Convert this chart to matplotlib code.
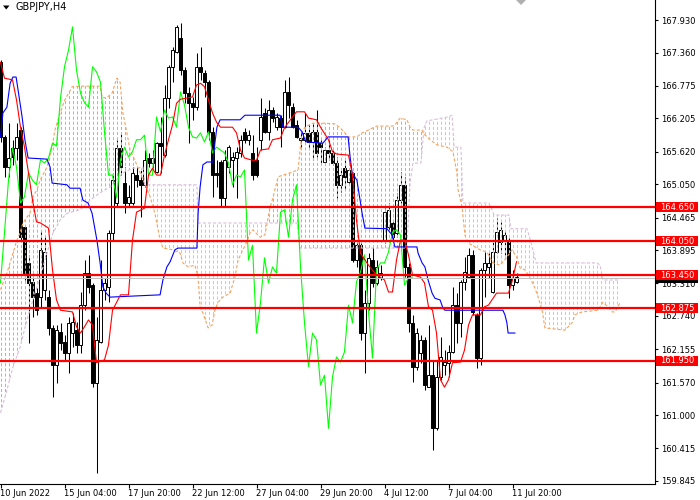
import numpy as np
import matplotlib
matplotlib.use('Agg')
import matplotlib.pyplot as plt
from matplotlib.patches import Rectangle, Polygon
from matplotlib.collections import LineCollection
from matplotlib.transforms import blended_transform_factory

plt.rcParams['font.family'] = ['DejaVu Sans']
plt.rcParams['lines.scale_dashes'] = False

# ---------------- data (GBPJPY, H4) ----------------
symbol_title = 'GBPJPY,H4'

opens = [167.19,165.88,165.35,165.69,165.69,166.00,164.30,163.67,163.34,163.14,
         163.07,163.20,163.07,162.53,161.88,162.46,162.28,162.09,162.44,162.49,
         162.23,162.93,163.49,163.28,161.56,162.28,163.20,163.25,164.20,164.72,
         165.69,165.07,164.72,164.72,165.21,165.12,165.04,165.51,165.42,165.26,
         165.77,165.56,166.56,167.11,167.37,167.62,167.05,166.65,166.48,166.40,
         167.11,167.00,166.84,165.97,165.25,165.44,164.81,165.35,165.48,165.51,
         165.60,165.97,165.83,165.60,165.48,165.83,166.30,165.97,166.35,166.05,
         166.21,166.05,166.67,166.40,166.09,165.83,165.83,165.95,165.79,165.97,
         165.77,165.44,165.65,165.60,165.42,165.04,165.34,165.09,165.25,163.72,
         163.98,162.44,162.97,163.72,163.32,163.41,164.07,164.30,164.37,164.20,
         164.77,165.04,163.60,162.62,161.85,162.09,162.32,161.49,161.70,160.77,
         161.67,161.88,161.92,162.11,162.93,162.62,163.34,163.42,163.81,162.76,
         162.00,163.55,163.60,163.16,163.86,164.04,164.07,164.04,163.28,163.34]
highs = [167.23,165.91,166.12,165.83,166.12,166.05,164.34,163.81,163.49,163.23,
         164.25,164.16,163.20,162.58,162.58,162.62,162.41,162.72,162.79,162.63,
         163.16,163.72,163.81,163.32,162.72,163.72,163.41,164.25,165.25,165.83,
         165.95,165.35,165.04,165.35,165.35,165.30,165.65,165.60,165.65,165.79,
         166.23,166.79,167.14,167.46,167.84,167.88,167.11,166.76,166.58,167.35,
         167.46,167.05,166.88,166.05,165.48,165.48,165.65,165.74,165.62,165.70,
         165.91,166.04,166.00,165.91,165.70,166.56,166.39,166.53,166.40,166.30,
         166.26,166.88,166.93,166.48,166.18,165.97,166.30,166.09,166.12,166.35,
         165.83,165.70,165.83,165.65,165.53,165.30,165.48,165.34,165.26,164.02,
         164.02,163.20,163.84,163.95,163.72,163.63,164.63,164.72,164.42,164.90,
         165.26,165.18,163.67,162.76,162.53,162.41,162.37,162.58,161.97,161.97,
         162.37,162.14,162.23,163.25,163.14,163.37,163.77,163.93,163.90,162.79,
         163.58,163.86,163.84,164.04,164.46,164.39,164.25,164.11,163.55,163.49]
lows = [165.79,165.18,165.18,165.39,165.48,164.07,163.37,162.27,162.72,162.76,
        162.90,163.02,162.41,161.32,161.56,162.14,161.97,161.74,162.20,162.09,
        162.09,162.84,163.14,161.49,159.99,162.27,163.02,162.99,164.07,164.65,
        165.21,164.55,164.65,164.69,165.00,164.48,165.00,165.35,165.34,165.25,
        165.25,165.53,166.39,166.84,167.35,166.97,166.48,165.77,166.18,166.35,
        166.88,166.58,165.83,164.83,165.00,164.65,164.65,165.25,165.00,164.81,
        165.53,165.77,165.74,165.12,165.18,165.65,165.95,165.83,166.14,166.00,
        165.70,166.04,166.21,166.04,165.86,165.70,165.79,165.69,165.48,165.53,
        165.42,165.39,165.48,165.39,164.81,164.91,164.95,165.04,163.69,163.60,
        162.32,161.74,162.84,163.25,163.28,163.37,164.02,164.25,164.07,164.12,
        164.72,163.42,162.46,161.58,161.79,161.92,161.44,161.49,160.39,160.74,
        161.62,161.70,161.67,162.09,162.27,162.37,163.20,163.41,162.76,161.83,
        161.88,163.07,163.41,163.14,163.84,163.84,163.81,163.06,163.20,163.32]
closes = [165.88,165.35,165.51,165.53,165.88,164.12,163.49,163.32,163.07,162.84,
          163.90,163.86,162.53,161.88,162.49,162.27,162.09,162.62,162.63,162.23,
          162.93,163.49,163.25,161.56,162.32,163.20,163.32,164.20,165.12,165.69,
          165.35,164.72,164.83,165.25,165.12,165.04,165.48,165.42,165.51,165.77,
          165.72,166.56,167.11,167.40,167.81,167.05,166.65,166.48,166.40,167.11,
          167.02,166.84,165.97,165.21,165.21,164.81,165.48,165.70,165.53,165.62,
          165.83,165.83,165.91,165.21,165.21,166.23,165.97,166.35,166.21,166.23,
          166.05,166.67,166.44,166.05,165.88,165.86,165.95,165.79,165.97,165.60,
          165.70,165.65,165.60,165.42,165.04,165.21,165.18,165.30,163.72,163.98,
          162.44,162.97,163.76,163.32,163.60,163.49,164.56,164.60,164.12,164.77,
          165.04,163.60,162.62,161.85,162.44,162.32,161.53,161.70,160.77,161.67,
          162.02,161.93,162.11,162.93,162.62,163.34,163.51,163.81,162.81,162.00,
          163.55,163.67,163.67,163.86,164.21,164.25,164.16,163.28,163.41,163.42]

# Tenkan-sen (red): bar index, price
tenkan_bar = [0,1,3,4,5,6,7,8,9,10,12,13,14,15,18,19,20,21,22,23,
              24,26,27,28,30,32,33,34,36,37,38,39,40,41,42,43,44,45,48,49,
              50,51,52,53,54,55,58,59,60,61,63,64,65,67,68,70,71,73,74,76,
              77,79,80,82,83,84,87,88,89,90,92,94,96,97,98,99,100,101,102,103,
              105,106,107,108,109,110,111,112,113,115,116,117,118,120,121,122,124,127,128,129]
tenkan_val = [167.19,166.91,166.88,166.53,166.05,165.70,165.25,164.77,164.39,164.37,
              164.28,163.55,163.02,162.84,162.81,162.55,162.44,162.55,162.67,162.58,
              161.92,161.97,162.23,162.84,163.11,163.11,164.07,164.56,164.63,165.21,
              165.33,165.21,165.21,165.56,165.83,166.09,166.47,166.54,166.58,166.79,
              166.82,166.76,166.53,166.30,166.14,166.05,166.05,165.95,165.65,165.51,
              165.47,165.47,165.65,165.67,165.83,165.86,166.04,166.23,166.32,166.32,
              166.21,166.18,166.05,165.83,165.62,165.58,165.56,165.21,164.42,163.84,
              163.63,163.46,163.37,163.16,163.16,163.72,164.07,164.07,163.81,163.46,
              163.42,163.32,162.90,162.84,162.44,161.62,161.49,161.62,161.92,161.93,
              162.14,162.58,162.76,162.76,162.90,162.93,163.14,163.14,163.37,163.69]

# Kijun-sen (blue)
kijun_bar = [0,0.6,1.6,2.4,3.1,3.9,4.4,5.4,6.1,6.9,
             11.6,12.4,12.9,16.6,17.4,19.9,20.6,21.9,22.9,24.1,
             24.9,25.6,26.4,27.4,39.9,40.6,41.6,42.4,43.6,44.4,
             49.1,49.4,49.9,50.6,51.6,53.1,53.6,54.1,54.9,59.9,
             61.1,69.9,70.6,74.4,75.4,76.1,76.6,80.6,81.9,86.9,
             87.4,87.9,89.1,89.9,90.4,91.1,96.6,97.9,98.6,104.1,
             104.4,105.4,106.1,106.9,107.9,108.6,109.9,110.6,111.1,125.6,
             126.1,126.6,126.9,128.6]
kijun_val = [165.88,166.30,166.40,166.82,166.93,166.93,166.70,166.23,165.83,165.51,
             165.49,165.35,165.07,165.04,164.98,164.98,164.77,164.72,164.54,164.07,
             163.67,163.25,163.14,163.07,163.11,163.37,163.60,163.69,163.90,163.93,
             163.93,164.54,165.00,165.39,165.44,165.44,165.77,166.05,166.18,166.18,
             166.26,166.26,166.05,166.05,165.97,165.83,165.79,165.77,165.88,165.88,
             165.53,165.25,165.12,164.77,164.54,164.28,164.27,164.16,163.95,163.95,
             163.84,163.67,163.60,163.37,163.14,163.05,163.02,162.88,162.84,162.84,
             162.76,162.62,162.44,162.44]

# Senkou span A (sandy brown edge of the cloud)
span_a_bar = [0.0,1.6,3.1,4.1,4.9,5.6,7.4,8.1,9.1,9.9,
              11.6,12.9,13.6,14.9,16.1,17.9,19.9,24.9,25.4,26.4,
              27.9,29.1,29.9,30.6,31.6,32.4,33.6,34.9,37.4,38.6,
              39.9,40.6,43.1,44.9,45.6,46.9,48.6,49.4,49.9,50.6,
              51.9,52.9,53.6,54.4,55.6,57.4,58.6,59.4,60.6,61.6,
              62.4,63.1,64.9,66.1,67.4,68.1,69.4,70.6,72.4,74.4,
              74.9,75.4,76.1,77.9,80.6,83.6,84.9,86.1,86.9,89.1,
              90.4,91.1,93.1,94.1,97.9,98.6,99.9,101.6,102.4,103.1,
              105.4,105.6,107.4,109.1,111.6,113.1,114.1,114.4,115.4,116.1,
              116.9,119.9,121.6,123.1,124.9,126.6,127.9,129.1,129.9,131.1,
              132.4,133.6,134.4,135.4,136.1,141.1,142.9,143.6,145.4,149.4,
              150.6,151.9,152.9,153.6,154.9]
span_a_val = [163.20,163.49,163.84,164.07,164.20,164.37,164.55,164.83,164.95,165.12,
              165.35,165.70,166.00,166.30,166.53,166.76,166.77,166.77,166.58,166.56,
              166.65,166.91,166.84,166.30,165.95,165.65,165.47,165.25,164.83,164.54,
              164.07,163.93,163.90,163.84,163.67,163.60,163.63,163.42,162.90,162.79,
              162.53,162.58,162.84,162.98,163.07,163.14,163.42,163.72,163.90,164.04,
              164.20,164.25,164.12,164.16,164.65,164.81,165.18,165.21,165.25,165.30,
              165.65,165.95,166.05,166.12,166.12,166.11,166.04,165.95,165.88,165.88,
              165.95,165.97,166.04,166.07,166.07,166.09,166.21,166.18,166.05,166.00,
              166.00,165.95,165.83,165.74,165.70,165.62,165.25,164.95,164.65,164.16,
              164.02,163.90,163.86,163.67,163.63,163.77,163.90,163.76,163.58,163.55,
              163.41,163.23,163.07,162.84,162.53,162.49,162.62,162.76,162.81,162.84,
              162.98,162.90,162.81,162.81,162.97]

# Senkou span B (thistle edge of the cloud)
span_b_bar = [0.0,1.6,3.1,4.9,6.6,8.1,9.9,11.6,13.1,14.9,
              16.6,19.9,22.4,24.9,27.4,30.6,33.1,35.6,36.1,49.1,
              49.4,74.1,74.9,101.6,102.4,103.1,105.1,105.9,106.6,111.9,
              112.9,113.4,115.1,115.6,122.1,122.6,123.4,127.1,127.6,131.6,
              132.1,133.1,133.9,149.1,149.9,150.6,154.9]
span_b_val = [161.04,161.44,161.84,162.19,162.67,163.02,163.42,163.84,164.19,164.42,
              164.54,164.60,164.77,164.90,165.00,165.25,165.33,165.35,165.04,165.04,
              164.37,164.37,163.93,163.93,165.07,165.42,165.42,166.04,166.16,166.23,
              166.26,165.70,165.70,164.72,164.72,164.65,164.51,164.51,164.27,164.27,
              164.16,163.90,163.67,163.67,163.63,163.37,163.37]
cloud_twists = [34.3, 66.7, 105.6]   # bars where span A and span B cross
chikou_shift = 26

levels = [164.650, 164.050, 163.450, 162.875, 161.950]
last_price = 163.400
price_ticks = [167.930, 167.360, 166.775, 166.205, 165.620, 165.050, 164.465,
               163.895, 163.310, 162.740, 162.155, 161.570, 161.000, 160.415, 159.845]
time_tick_bars = [0, 16, 32, 48, 64, 80, 96, 112, 128]
time_tick_labels = ['10 Jun 2022', '15 Jun 04:00', '17 Jun 20:00', '22 Jun 12:00',
                    '27 Jun 04:00', '29 Jun 20:00', '4 Jul 12:00', '7 Jul 04:00',
                    '11 Jul 20:00']

# ---------------- styling ----------------
W, H = 700, 500
C_UP_CLOUD = '#F4A460'   # sandy brown
C_DN_CLOUD = '#D8BFD8'   # thistle
DOT = (0, (2.2, 1.5))
YMIN, YMAX = 159.801, 168.281

fig = plt.figure(figsize=(W / 100, H / 100), dpi=100)
fig.patch.set_facecolor('white')
ax = fig.add_axes([0, 16.5 / H, 654.5 / W, 483.5 / H])
ax.set_facecolor('white')
ax.set_xlim(-0.125, 163.5)
ax.set_ylim(YMIN, YMAX)

o = np.array(opens); h = np.array(highs); l = np.array(lows); c = np.array(closes)
bars = np.arange(len(o))
up = c >= o

# candles
ax.vlines(bars, l, h, color='black', lw=0.75, zorder=2)
body_low = np.minimum(o, c)
body_h = np.maximum(np.abs(c - o), 0.012)
ax.bar(bars[up], body_h[up], bottom=body_low[up], width=0.6, facecolor='white',
       edgecolor='black', linewidth=0.7, zorder=2.1)
ax.bar(bars[~up], body_h[~up], bottom=body_low[~up], width=0.6, facecolor='black',
       edgecolor='black', linewidth=0.7, zorder=2.1)

# cloud: dotted vertical hatch (one column per bar) clipped to the area between span A and B
a_b = np.array(span_a_bar); a_v = np.array(span_a_val)
b_b = np.array(span_b_bar); b_v = np.array(span_b_val)
edges = [a_b[0] - 0.6] + list(cloud_twists) + [a_b[-1]]
for k in range(len(edges) - 1):
    s0, s1 = edges[k], edges[k + 1]
    ia = (a_b > s0) & (a_b < s1)
    ib = (b_b > s0) & (b_b < s1)
    top = [(s0, np.interp(s0, a_b, a_v))] + list(zip(a_b[ia], a_v[ia])) + [(s1, np.interp(s1, a_b, a_v))]
    bot = [(s0, np.interp(s0, b_b, b_v))] + list(zip(b_b[ib], b_v[ib])) + [(s1, np.interp(s1, b_b, b_v))]
    poly = Polygon(top + bot[::-1], closed=True, facecolor='none', edgecolor='none')
    ax.add_patch(poly)
    mid = 0.5 * (s0 + s1)
    col = C_UP_CLOUD if np.interp(mid, a_b, a_v) >= np.interp(mid, b_b, b_v) else C_DN_CLOUD
    xs = np.arange(max(0, np.ceil(s0)), np.floor(s1) + 1)
    segs = [[(xv, YMIN), (xv, YMAX)] for xv in xs]
    lc = LineCollection(segs, colors=col, linewidths=0.72, linestyles=[DOT], zorder=2.5)
    ax.add_collection(lc)
    lc.set_clip_path(poly)
ax.plot(a_b, a_v, color=C_UP_CLOUD, lw=0.8, ls=DOT, zorder=2.6)
ax.plot(b_b, b_v, color=C_DN_CLOUD, lw=0.8, ls=DOT, zorder=2.6)

# Ichimoku lines
ax.plot(bars[:-chikou_shift], c[chikou_shift:], color='#00FF00', lw=0.8, zorder=3)
ax.plot(kijun_bar, kijun_val, color='#0000FF', lw=0.8, zorder=3.1)
ax.plot(tenkan_bar, tenkan_val, color='#FF0000', lw=0.8, zorder=3.2)

# horizontal levels + current price
ax.axhline(last_price, color='#C0C0C0', lw=0.75, zorder=3.5)
for lv in levels:
    ax.axhline(lv, color='#FF0000', lw=1.6, zorder=4)

# axes cosmetics
for s in ('top', 'left'):
    ax.spines[s].set_visible(False)
for s in ('right', 'bottom'):
    ax.spines[s].set_color('black')
    ax.spines[s].set_linewidth(0.8)
ax.yaxis.tick_right()
ax.set_yticks(price_ticks)
ax.set_yticklabels(['%.3f' % v for v in price_ticks])
ax.tick_params(axis='y', direction='out', length=2, width=0.8, pad=2.5, labelsize=6, colors='black')
ax.set_xticks(time_tick_bars)
ax.set_xticklabels(time_tick_labels)
ax.tick_params(axis='x', direction='out', length=3, width=0.8, pad=1.2, labelsize=6, colors='black')
for lab in ax.get_xticklabels():
    lab.set_horizontalalignment('left')

# price labels on the right scale (current-price box is mostly hidden, as in the original)
trans = blended_transform_factory(ax.transAxes, ax.transData)
hh = (YMAX - YMIN) * 5.0 / 483.5
bw = 42.5 / 654.5
x0 = 1.0 + 1.0 / 654.5
ax.add_patch(Rectangle((x0, last_price - hh), bw, 2 * hh, transform=trans,
                       facecolor='black', edgecolor='none', clip_on=False, zorder=9))
for lv in levels:
    ax.add_patch(Rectangle((x0, lv - hh), bw, 2 * hh, transform=trans,
                           facecolor='#FF0000', edgecolor='none', clip_on=False, zorder=10))
    ax.text(x0 + 4.5 / 654.5, lv, '%.3f' % lv, transform=trans, color='white',
            fontsize=6, va='center', ha='left', clip_on=False, zorder=11)

# title and markers
def fx(x):
    return x / W
def fy(y):
    return 1 - y / H

fig.add_artist(Polygon([(fx(3), fy(5.5)), (fx(9.5), fy(5.5)), (fx(6.25), fy(9.5))],
                       closed=True, transform=fig.transFigure, facecolor='black', edgecolor='none'))
fig.text(fx(15), fy(7.5), symbol_title, fontsize=7, va='center', ha='left', color='black')
fig.add_artist(Polygon([(fx(516), fy(0)), (fx(526), fy(0)), (fx(521), fy(5))],
                       closed=True, transform=fig.transFigure, facecolor='#B0B0B0', edgecolor='none'))

fig.savefig('out.png', dpi=100, facecolor='white')
